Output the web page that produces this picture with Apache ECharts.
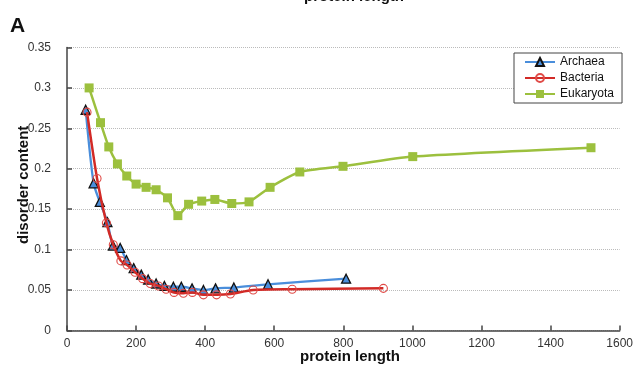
<!DOCTYPE html>
<html>
<head>
<meta charset="utf-8">
<script src="https://cdn.jsdelivr.net/npm/echarts@6/dist/echarts.min.js"></script>
<style>
  html, body { margin: 0; padding: 0; background: #fff; }
  #chart { width: 636px; height: 367px; }
</style>
</head>
<body>
<div id="chart"></div>
<script>
// Mean disorder content by protein length, per domain of life
const archaeaLength = [54, 77, 95, 117, 133, 154, 172, 193, 215, 235, 258, 282, 308, 331, 362, 395, 430, 483, 582, 808];
const archaeaDisorder = [0.273, 0.182, 0.159, 0.134, 0.105, 0.102, 0.087, 0.077, 0.069, 0.063, 0.058, 0.055, 0.054, 0.054, 0.052, 0.050, 0.052, 0.053, 0.057, 0.064];

const bacteriaLength = [58, 87, 114, 134, 156, 174, 197, 219, 241, 265, 287, 310, 337, 363, 395, 433, 473, 539, 652, 916];
const bacteriaDisorder = [0.270, 0.188, 0.133, 0.106, 0.086, 0.081, 0.072, 0.064, 0.058, 0.055, 0.051, 0.047, 0.046, 0.047, 0.044, 0.044, 0.045, 0.050, 0.051, 0.052];

const eukaryotaLength = [64, 97, 121, 146, 173, 200, 229, 258, 291, 321, 352, 390, 428, 477, 527, 588, 674, 799, 1001, 1517];
const eukaryotaDisorder = [0.300, 0.257, 0.227, 0.206, 0.191, 0.181, 0.177, 0.174, 0.164, 0.142, 0.156, 0.160, 0.162, 0.157, 0.159, 0.177, 0.196, 0.203, 0.215, 0.226];

const xTicks = { min: 0, max: 1600, interval: 200 };
const yTicks = { min: 0, max: 0.35, interval: 0.05 };

const pairs = (xs, ys) => xs.map((x, i) => [x, ys[i]]);

const chart = echarts.init(document.getElementById('chart'), null, { renderer: 'canvas' });

const FONT = 'Liberation Sans, Arial, sans-serif';
const axisText = { color: '#333', fontFamily: FONT, fontSize: 12 };

chart.setOption({
  animation: false,
  backgroundColor: '#ffffff',
  grid: { left: 67, right: 14, top: 47.5, bottom: 36.6, containLabel: false },
  graphic: [
    { type: 'text', left: 304, top: -11, style: { text: 'protein length', fontFamily: FONT, fontWeight: 'bold', fontSize: 15, fill: '#111' } },
    { type: 'text', left: 10, top: 16, style: { text: 'A', fontFamily: FONT, fontWeight: 'bold', fontSize: 21, fill: '#111' } },
    { type: 'text', left: 300, top: 349, style: { text: 'protein length', fontFamily: FONT, fontWeight: 'bold', fontSize: 15, fill: '#111' } },
    { type: 'text', x: 16, y: 244, rotation: Math.PI / 2, style: { text: 'disorder content', fontFamily: FONT, fontWeight: 'bold', fontSize: 15, fill: '#111' } }
  ],
  legend: {
    orient: 'vertical',
    left: 514,
    top: 53,
    width: 109,
    padding: [3, 8, 3, 10],
    itemGap: 4,
    itemWidth: 30,
    itemHeight: 10,
    borderColor: '#444',
    borderWidth: 1,
    backgroundColor: '#fff',
    textStyle: { color: '#111', fontFamily: FONT, fontSize: 12 },
    data: ['Archaea', 'Bacteria', 'Eukaryota']
  },
  xAxis: {
    type: 'value',
    min: xTicks.min, max: xTicks.max, interval: xTicks.interval,
    axisLine: { show: true, lineStyle: { color: '#444', width: 1.5 } },
    axisTick: { show: true, inside: true, length: 5, lineStyle: { color: '#444', width: 1.5 } },
    axisLabel: Object.assign({ margin: 7, formatter: v => String(v) }, axisText),
    splitLine: { show: false }
  },
  yAxis: {
    type: 'value',
    min: yTicks.min, max: yTicks.max, interval: yTicks.interval,
    axisLine: { show: true, lineStyle: { color: '#444', width: 1.5 } },
    axisTick: { show: true, inside: true, length: 5, lineStyle: { color: '#444', width: 1.5 } },
    axisLabel: Object.assign({ margin: 16 }, axisText),
    splitLine: { show: true, lineStyle: { color: '#bbb', type: 'dotted', width: 1 } }
  },
  series: [
    {
      name: 'Archaea', type: 'line', data: pairs(archaeaLength, archaeaDisorder),
      smooth: 0.25, symbol: 'triangle', symbolSize: 9, showAllSymbol: true,
      lineStyle: { color: '#4a8edb', width: 2.3 },
      itemStyle: { color: '#4a8edb', borderColor: '#111', borderWidth: 1.3 },
      z: 3
    },
    {
      name: 'Bacteria', type: 'line', data: pairs(bacteriaLength, bacteriaDisorder),
      smooth: 0.25, symbol: 'circle', symbolSize: 8, showAllSymbol: true,
      lineStyle: { color: '#d22a26', width: 2.5 },
      itemStyle: { color: 'rgba(255,255,255,0)', borderColor: '#e04a46', borderWidth: 1.1 },
      z: 4
    },
    {
      name: 'Eukaryota', type: 'line', data: pairs(eukaryotaLength, eukaryotaDisorder),
      smooth: 0.2, symbol: 'rect', symbolSize: 9, showAllSymbol: true,
      lineStyle: { color: '#9cc03e', width: 2.5 },
      itemStyle: { color: '#9cc03e' },
      z: 2
    }
  ]
});
</script>
</body>
</html>
